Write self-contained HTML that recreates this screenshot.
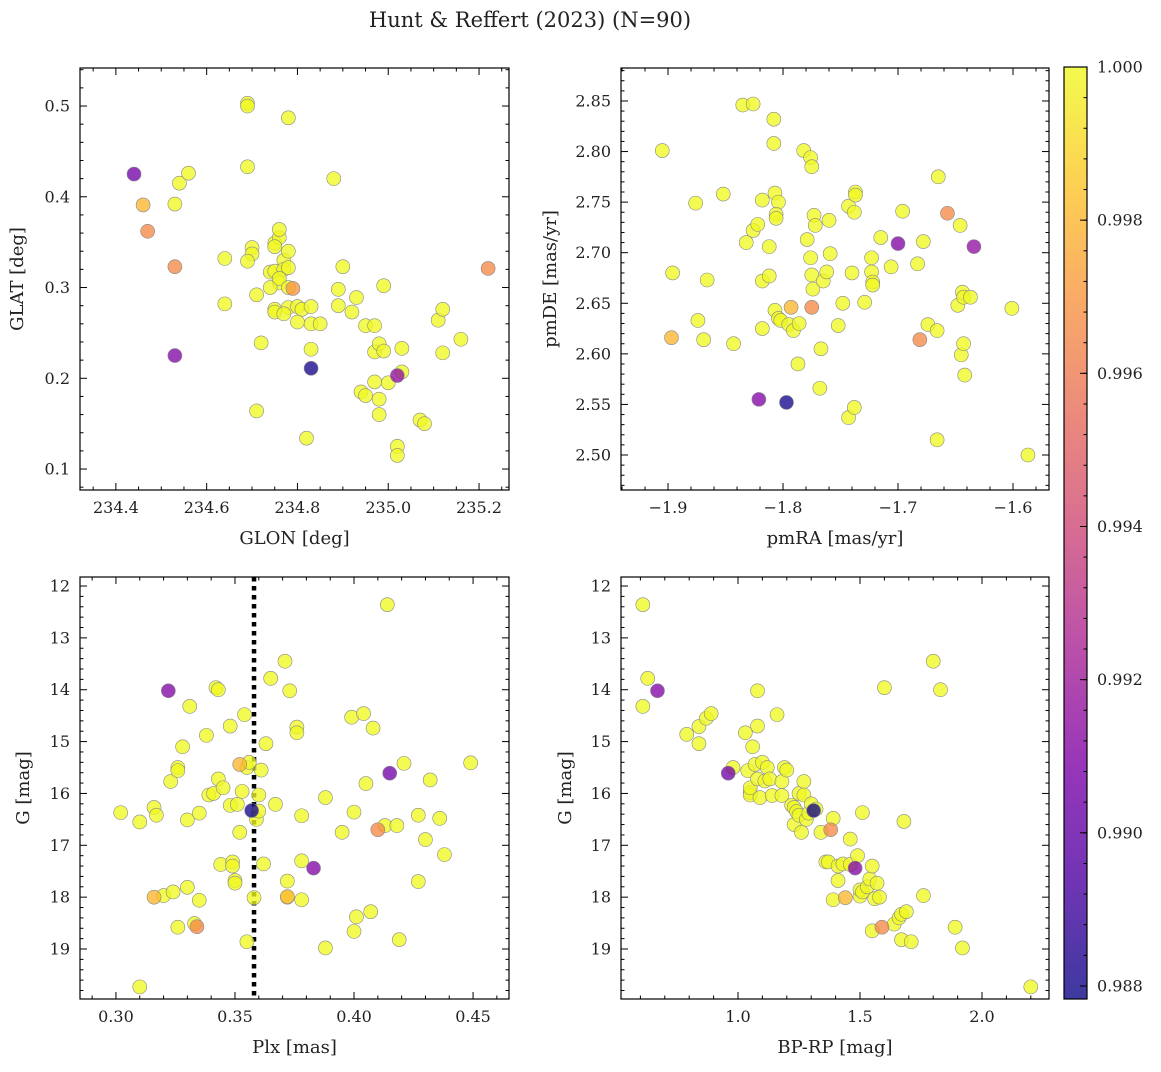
<!DOCTYPE html>
<html><head><meta charset="utf-8"><style>
body{margin:0;background:#fff}
svg text{font-family:"DejaVu Serif","Liberation Serif",serif;fill:#222}
</style></head><body>
<svg id="fig" width="1161" height="1067" xmlns="http://www.w3.org/2000/svg">
<defs><linearGradient id="plasma" x1="0" y1="1" x2="0" y2="0">
<stop offset="0" stop-color="#0d0887"/><stop offset="0.125" stop-color="#4c02a1"/><stop offset="0.25" stop-color="#7e03a8"/><stop offset="0.375" stop-color="#a92395"/><stop offset="0.5" stop-color="#cc4778"/><stop offset="0.625" stop-color="#e66c5c"/><stop offset="0.75" stop-color="#f89540"/><stop offset="0.875" stop-color="#fdc527"/><stop offset="1" stop-color="#f0f921"/></linearGradient></defs>
<text x="530" y="27" font-size="21" text-anchor="middle">Hunt &amp; Reffert (2023) (N=90)</text>
</svg>
<script>
const p1x=[234.44,234.46,234.47,234.53,234.54,234.56,234.53,234.53,234.69,234.69,234.78,234.69,234.88,234.64,234.64,234.70,234.70,234.69,234.71,234.72,234.71,234.75,234.76,234.76,234.75,234.74,234.75,234.76,234.77,234.78,234.77,234.78,234.74,234.76,234.79,234.78,234.75,234.75,234.78,234.77,234.80,234.81,234.83,234.80,234.83,234.85,234.83,234.83,234.82,234.89,234.89,234.90,234.93,234.92,234.95,234.97,234.99,234.97,234.98,234.99,234.94,234.95,234.97,235.00,235.02,235.03,235.03,234.98,234.98,235.07,235.08,235.02,235.02,235.11,235.12,235.12,235.16,235.22];
const p1y=[0.425,0.391,0.362,0.392,0.415,0.426,0.323,0.225,0.503,0.500,0.487,0.433,0.420,0.332,0.282,0.344,0.337,0.329,0.292,0.239,0.164,0.349,0.355,0.364,0.345,0.317,0.318,0.305,0.330,0.340,0.320,0.322,0.300,0.310,0.299,0.300,0.276,0.273,0.278,0.271,0.279,0.276,0.279,0.262,0.260,0.260,0.232,0.211,0.134,0.298,0.280,0.323,0.289,0.273,0.258,0.258,0.302,0.229,0.238,0.230,0.185,0.181,0.196,0.195,0.203,0.207,0.233,0.160,0.177,0.154,0.150,0.125,0.115,0.264,0.276,0.228,0.243,0.321];
const p1p=[0.9905,0.998,0.9965,1,1,1,0.9965,0.991,1,1,1,1,1,1,1,1,1,1,1,1,1,1,1,1,1,1,1,1,1,1,1,1,1,1,0.997,1,1,1,1,1,1,1,1,1,1,1,1,0.988,1,1,1,1,1,1,1,1,1,1,1,1,1,1,1,1,0.9915,1,1,1,1,1,1,1,1,1,1,1,1,0.9965];
const p2x=[-1.905,-1.897,-1.896,-1.876,-1.874,-1.869,-1.866,-1.852,-1.843,-1.835,-1.826,-1.832,-1.826,-1.822,-1.818,-1.818,-1.818,-1.821,-1.812,-1.812,-1.808,-1.808,-1.807,-1.804,-1.806,-1.806,-1.807,-1.804,-1.802,-1.797,-1.795,-1.791,-1.786,-1.787,-1.793,-1.782,-1.776,-1.775,-1.779,-1.773,-1.772,-1.776,-1.775,-1.774,-1.775,-1.768,-1.767,-1.765,-1.762,-1.759,-1.760,-1.752,-1.748,-1.743,-1.743,-1.738,-1.737,-1.737,-1.738,-1.740,-1.729,-1.723,-1.723,-1.722,-1.722,-1.715,-1.706,-1.700,-1.696,-1.683,-1.678,-1.674,-1.666,-1.666,-1.665,-1.681,-1.657,-1.648,-1.646,-1.644,-1.643,-1.645,-1.643,-1.642,-1.637,-1.634,-1.601,-1.587];
const p2y=[2.801,2.616,2.680,2.749,2.633,2.614,2.673,2.758,2.610,2.846,2.847,2.710,2.722,2.728,2.752,2.672,2.625,2.555,2.706,2.677,2.832,2.808,2.759,2.750,2.738,2.734,2.643,2.635,2.633,2.552,2.629,2.623,2.630,2.590,2.646,2.801,2.794,2.785,2.713,2.737,2.727,2.695,2.678,2.664,2.646,2.566,2.605,2.672,2.681,2.699,2.732,2.628,2.650,2.746,2.537,2.547,2.760,2.757,2.740,2.680,2.651,2.695,2.681,2.671,2.668,2.715,2.686,2.709,2.741,2.689,2.711,2.629,2.623,2.515,2.775,2.614,2.739,2.648,2.727,2.661,2.656,2.599,2.610,2.579,2.656,2.706,2.645,2.500];
const p2p=[1,0.998,1,1,1,1,1,1,1,1,1,1,1,1,1,1,1,0.991,1,1,1,1,1,1,1,1,1,1,1,0.988,1,1,1,1,0.998,1,1,1,1,1,1,1,1,1,0.9965,1,1,1,1,1,1,1,1,1,1,1,1,1,1,1,1,1,1,1,1,1,1,0.991,1,1,1,1,1,1,1,0.9965,0.9965,1,1,1,1,1,1,1,1,0.9915,1,1];
const p3x=[0.302,0.310,0.310,0.316,0.317,0.316,0.320,0.322,0.323,0.324,0.326,0.326,0.326,0.328,0.330,0.330,0.331,0.333,0.334,0.335,0.335,0.338,0.339,0.341,0.342,0.343,0.343,0.344,0.345,0.348,0.348,0.349,0.349,0.350,0.350,0.351,0.352,0.352,0.353,0.354,0.355,0.356,0.357,0.358,0.355,0.359,0.360,0.360,0.361,0.362,0.363,0.365,0.367,0.371,0.372,0.372,0.372,0.373,0.376,0.376,0.378,0.378,0.378,0.383,0.388,0.388,0.395,0.399,0.400,0.400,0.401,0.404,0.405,0.407,0.408,0.410,0.413,0.414,0.415,0.418,0.419,0.421,0.427,0.427,0.430,0.432,0.436,0.438,0.449];
const p3y=[16.37,19.73,16.55,16.27,16.42,18.00,17.97,14.02,15.77,17.90,15.50,15.56,18.58,15.10,16.51,17.81,14.32,18.51,18.57,16.38,18.06,14.88,16.03,16.00,13.96,14.00,15.72,17.37,15.89,14.70,16.23,17.32,17.40,17.68,17.73,16.21,16.75,15.44,15.96,14.48,15.50,15.40,16.33,18.01,18.86,16.50,16.34,16.03,15.55,17.36,15.04,13.78,16.21,13.45,18.00,17.99,17.69,14.02,14.72,14.83,16.43,17.30,18.05,17.44,16.08,18.98,16.75,14.53,16.36,18.66,18.38,14.46,15.81,18.28,14.74,16.70,16.62,12.36,15.61,16.62,18.82,15.42,17.70,16.42,16.89,15.74,16.48,17.18,15.41];
const p3p=[1,1,1,1,1,0.998,1,0.991,1,1,1,1,1,1,1,1,1,1,0.9965,1,1,1,1,1,1,1,1,1,1,1,1,1,1,1,1,1,1,0.998,1,1,1,1,0.988,1,1,1,1,1,1,1,1,1,1,1,1,0.998,1,1,1,1,1,1,1,0.991,1,1,1,1,1,1,1,1,1,1,1,0.9965,1,1,0.9905,1,1,1,1,1,1,1,1,1,1];
const p4x=[0.61,0.61,0.63,0.67,0.79,0.84,0.84,0.87,0.89,0.96,0.98,1.03,1.04,1.05,1.05,1.05,1.06,1.07,1.08,1.08,1.08,1.09,1.10,1.11,1.12,1.13,1.14,1.16,1.18,1.18,1.19,1.20,1.22,1.23,1.23,1.24,1.25,1.25,1.26,1.27,1.27,1.28,1.29,1.30,1.31,1.32,1.34,1.36,1.37,1.38,1.39,1.39,1.41,1.41,1.43,1.44,1.46,1.46,1.48,1.49,1.50,1.50,1.51,1.51,1.53,1.54,1.55,1.55,1.56,1.57,1.58,1.59,1.60,1.64,1.66,1.67,1.67,1.68,1.69,1.71,1.76,1.80,1.83,1.89,1.92,2.20];
const p4y=[12.36,14.32,13.78,14.02,14.86,14.71,15.04,14.55,14.46,15.61,15.50,14.83,15.56,15.98,16.03,15.89,15.10,15.44,15.72,14.02,14.70,16.08,15.40,15.76,15.50,15.72,16.04,14.48,16.04,15.77,15.50,15.55,16.23,16.27,16.60,16.35,16.00,16.42,16.75,15.77,16.03,16.50,16.38,16.20,16.33,16.30,16.75,17.32,17.32,16.70,16.48,18.05,17.68,17.40,17.36,18.01,16.88,17.37,17.44,17.20,17.98,17.86,16.37,17.90,17.80,17.65,18.65,17.40,18.03,17.73,18.00,18.58,13.96,18.52,18.40,18.33,18.82,16.54,18.28,18.86,17.97,13.45,14.00,18.58,18.98,19.73];
const p4p=[1,1,1,0.991,1,1,1,1,1,0.9905,1,1,1,1,1,1,1,1,1,1,1,1,1,1,1,1,1,1,1,1,1,1,1,1,1,1,1,1,1,1,1,1,1,1,0.988,1,1,1,1,0.9965,1,1,1,1,1,0.998,1,1,0.991,1,1,1,1,1,1,1,1,1,1,1,1,0.9965,1,1,1,1,1,1,1,1,1,1,1,1,1,1];
const plxLine=0.358;
const cbTicks=[0.988,0.990,0.992,0.994,0.996,0.998,1.000];
const VMIN=0.98783, VMAX=1.0;

const NS="http://www.w3.org/2000/svg", svg=document.getElementById('fig');
function mk(t,a,p){const e=document.createElementNS(NS,t);for(const k in a)e.setAttribute(k,a[k]);(p||svg).appendChild(e);return e;}
const stops=[[0,[13,8,135]],[.125,[76,2,161]],[.25,[126,3,168]],[.375,[169,35,149]],[.5,[204,71,120]],[.625,[230,108,92]],[.75,[248,149,64]],[.875,[253,197,39]],[1,[240,249,33]]];
function cmap(v){let t=Math.max(0,Math.min(1,(v-VMIN)/(VMAX-VMIN)));for(let i=1;i<stops.length;i++){if(t<=stops[i][0]){const a=stops[i-1],b=stops[i],f=(t-a[0])/(b[0]-a[0]);return 'rgb('+a[1].map((c,j)=>Math.round(c+(b[1][j]-c)*f)).join(',')+')';}}return 'rgb(240,249,33)';}
function dec(v,s){const d=Math.max(0,-Math.floor(Math.log10(s)+1e-9));return v.toFixed(d);}

function panel(o){
  const g=mk('g',{});
  
  
  const sx=v=>o.L+(v-o.x0)/(o.x1-o.x0)*(o.R-o.L);
  const sy=o.inv?v=>o.T+(v-o.y0)/(o.y1-o.y0)*(o.B-o.T):v=>o.B-(v-o.y0)/(o.y1-o.y0)*(o.B-o.T);
  if(o.vline!==undefined){const l=mk('line',{x1:sx(o.vline),x2:sx(o.vline),y1:o.T,y2:o.B,stroke:'#000','stroke-width':4.5,'stroke-dasharray':'4.5,4.5'},g);}
  const idx=o.X.map((_,i)=>i).sort((a,b)=>o.P[b]-o.P[a]);
  for(const i of idx){const c=mk('circle',{cx:sx(o.X[i]),cy:sy(o.Y[i]),r:7,fill:cmap(o.P[i]),'fill-opacity':0.78,stroke:'#888','stroke-width':0.6},g);
    
    }
  const f=mk('rect',{x:o.L,y:o.T,width:o.R-o.L,height:o.B-o.T,fill:'none',stroke:'#000','stroke-width':1.2},g);
  
  const xlo=Math.min(o.x0,o.x1),xhi=Math.max(o.x0,o.x1);
  for(let k=Math.ceil(xlo/o.xm-1e-6);k*o.xm<=xhi+1e-9;k++){const v=k*o.xm,x=sx(v),maj=Math.abs(v/o.xM-Math.round(v/o.xM))<1e-4,len=maj?7:3.5;
    mk('line',{x1:x,x2:x,y1:o.B,y2:o.B-len,stroke:'#000','stroke-width':1},g);mk('line',{x1:x,x2:x,y1:o.T,y2:o.T+len,stroke:'#000','stroke-width':1},g);
    if(maj){const t=mk('text',{x:x,y:o.B+23,'font-size':16,'text-anchor':'middle'},g);t.textContent=(v<0?'\u2212':'')+dec(Math.abs(v),o.xM*(o.xd||1));}}
  const ylo=Math.min(o.y0,o.y1),yhi=Math.max(o.y0,o.y1);
  for(let k=Math.ceil(ylo/o.ym-1e-6);k*o.ym<=yhi+1e-9;k++){const v=k*o.ym,y=sy(v),maj=Math.abs(v/o.yM-Math.round(v/o.yM))<1e-4,len=maj?7:3.5;
    mk('line',{x1:o.L,x2:o.L+len,y1:y,y2:y,stroke:'#000','stroke-width':1},g);mk('line',{x1:o.R,x2:o.R-len,y1:y,y2:y,stroke:'#000','stroke-width':1},g);
    if(maj){const t=mk('text',{x:o.L-10,y:y+5.5,'font-size':16,'text-anchor':'end'},g);t.textContent=dec(v,o.yM*(o.yd||1));}}
  const xl=mk('text',{x:(o.L+o.R)/2,y:o.B+54,'font-size':18,'text-anchor':'middle'},g);xl.textContent=o.xlab;
  const cy=(o.T+o.B)/2,yl=mk('text',{x:o.yl,y:cy,'font-size':18,'text-anchor':'middle',transform:`rotate(-90 ${o.yl} ${cy})`},g);yl.textContent=o.ylab;
}
panel({name:'glon-glat-panel',L:80,R:509,T:68,B:490,x0:234.321,x1:235.266,y0:0.0769,y1:0.5419,xM:0.2,xm:0.05,yM:0.1,ym:0.02,X:p1x,Y:p1y,P:p1p,xlab:'GLON [deg]',ylab:'GLAT [deg]',yl:23});
panel({name:'proper-motion-panel',L:621,R:1049,T:68,B:490,x0:-1.9409,x1:-1.5687,y0:2.4654,y1:2.8826,xM:0.1,xm:0.02,yM:0.05,ym:0.01,yd:0.2,X:p2x,Y:p2y,P:p2p,xlab:'pmRA [mas/yr]',ylab:'pmDE [mas/yr]',yl:556});
panel({name:'parallax-magnitude-panel',L:80,R:509,T:577,B:999,x0:0.2849,x1:0.4651,y0:11.826,y1:19.964,inv:true,xM:0.05,xm:0.01,xd:0.2,yM:1,ym:0.2,X:p3x,Y:p3y,P:p3p,xlab:'Plx [mas]',ylab:'G [mag]',yl:29,vline:plxLine});
panel({name:'color-magnitude-panel',L:621,R:1049,T:577,B:999,x0:0.5205,x1:2.2746,y0:11.826,y1:19.964,inv:true,xM:0.5,xm:0.1,yM:1,ym:0.2,X:p4x,Y:p4y,P:p4p,xlab:'BP-RP [mag]',ylab:'G [mag]',yl:571});
const cb=mk('g',{});


const CT=67,CB=999,CL=1064,CR=1087;
const cyv=v=>CB-(v-VMIN)/(VMAX-VMIN)*(CB-CT);
mk('rect',{x:CL,y:CT,width:CR-CL,height:CB-CT,fill:'url(#plasma)','fill-opacity':0.8},cb);
mk('rect',{x:CL,y:CT,width:CR-CL,height:CB-CT,fill:'none',stroke:'#000','stroke-width':1.2},cb);
for(let v=0.988;v<=1.00001;v+=0.0004){const y=cyv(v);mk('line',{x1:CR,x2:CR-3.5,y1:y,y2:y,stroke:'#000','stroke-width':1},cb);}
for(const v of cbTicks){const y=cyv(v);mk('line',{x1:CR,x2:CR-7,y1:y,y2:y,stroke:'#000','stroke-width':1},cb);
  const t=mk('text',{x:CR+10,y:y+5.5,'font-size':16},cb);t.textContent=v.toFixed(3);
  
  }
</script>
</body></html>
